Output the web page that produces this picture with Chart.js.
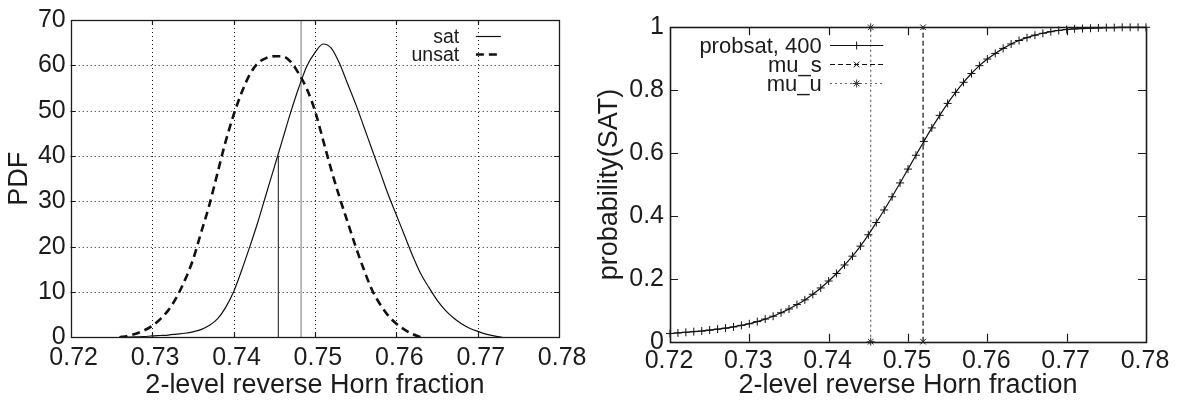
<!DOCTYPE html>
<html><head><meta charset="utf-8">
<script src="https://cdn.jsdelivr.net/npm/chart.js@4.4.1/dist/chart.umd.min.js"></script>
<style>
html,body{margin:0;padding:0;background:#fff;}
#wrap{position:relative;width:1178px;height:403px;overflow:hidden;background:#fff;}
canvas{position:absolute;top:0;}
#c1{left:0;} #c2{left:589px;}
</style></head><body>
<div id="wrap"><canvas id="c1" width="589" height="403"></canvas><canvas id="c2" width="589" height="403"></canvas></div>
<script>
// ---------- data ----------
const xTicks = [0.72, 0.73, 0.74, 0.75, 0.76, 0.77, 0.78];
const xTickLabels = ['0.72', '0.73', '0.74', '0.75', '0.76', '0.77', '0.78'];
const pdfTicks = [0, 10, 20, 30, 40, 50, 60, 70];
const pdfTickLabels = ['0', '10', '20', '30', '40', '50', '60', '70'];
const probTicks = [0, 0.2, 0.4, 0.6, 0.8, 1];
const probTickLabels = ['0', '0.2', '0.4', '0.6', '0.8', '1'];

const pdfX = [0.726, 0.727, 0.728, 0.729, 0.730, 0.731, 0.732, 0.733, 0.734, 0.735,
  0.736, 0.737, 0.738, 0.739, 0.740, 0.741, 0.742, 0.743, 0.744, 0.745,
  0.746, 0.747, 0.748, 0.749, 0.750, 0.751, 0.752, 0.753, 0.754, 0.755,
  0.756, 0.757, 0.758, 0.759, 0.760, 0.761, 0.762, 0.763, 0.764, 0.765,
  0.766, 0.767, 0.768, 0.769, 0.770, 0.771, 0.772, 0.773];
const satPdf = [0, 0.05, 0.1, 0.15, 0.3, 0.4, 0.5, 0.7, 0.9, 1.2,
  1.7, 2.6, 4, 6.5, 10, 14.8, 20, 25.5, 31.5, 37.5,
  43.5, 49.5, 55, 59.8, 62.8, 64.7, 63.8, 60.5, 56, 51.5,
  46.5, 41.5, 36.5, 31.5, 27, 22.5, 18, 14, 11, 8.2,
  6, 4.3, 3, 2, 1.3, 0.7, 0.3, 0];
const unsatPdf = [0, 0.3, 0.8, 1.5, 2.5, 4, 6, 8.8, 12.5, 17,
  23, 29, 36, 43, 49, 54, 58, 60.5, 61.6, 62,
  62, 60.8, 58.2, 54.8, 50, 43.5, 37, 31, 25.5, 20,
  15, 10.5, 7.3, 4.8, 3, 1.7, 0.7, 0, null, null,
  null, null, null, null, null, null, null, null];
const blackLineX = [0.7455, 0.7455];
const blackLineY = [0, 40];
const grayLineX = [0.7483, 0.7483];
const grayLineY = [0, 70];

const probX = [0.720, 0.721, 0.722, 0.723, 0.724, 0.725, 0.726, 0.727, 0.728, 0.729,
  0.730, 0.731, 0.732, 0.733, 0.734, 0.735, 0.736, 0.737, 0.738, 0.739,
  0.740, 0.741, 0.742, 0.743, 0.744, 0.745, 0.746, 0.747, 0.748, 0.749,
  0.750, 0.751, 0.752, 0.753, 0.754, 0.755, 0.756, 0.757, 0.758, 0.759,
  0.760, 0.761, 0.762, 0.763, 0.764, 0.765, 0.766, 0.767, 0.768, 0.769,
  0.770, 0.771, 0.772, 0.773, 0.774, 0.775, 0.776, 0.777, 0.778, 0.779, 0.780];
const probSat = [0.026, 0.028, 0.030, 0.032, 0.034, 0.037, 0.040, 0.043, 0.047, 0.052,
  0.057, 0.064, 0.072, 0.081, 0.092, 0.104, 0.118, 0.133, 0.151, 0.171,
  0.193, 0.217, 0.244, 0.272, 0.304, 0.340, 0.379, 0.419, 0.461, 0.505,
  0.549, 0.593, 0.637, 0.680, 0.720, 0.758, 0.793, 0.825, 0.853, 0.878,
  0.899, 0.917, 0.933, 0.947, 0.958, 0.967, 0.975, 0.981, 0.986, 0.990,
  0.993, 0.995, 0.996, 0.997, 0.998, 0.999, 0.999, 1.0, 1.0, 1.0, 1.0];
const muSX = [0.7519, 0.7519];
const muUX = [0.7453, 0.7453];
const muY = [0, 1];

// ---------- helpers ----------
const FONT = "'Liberation Sans', Arial, Helvetica, sans-serif";
const INK = '#1c1c1c';
Chart.defaults.font.family = FONT;
Chart.defaults.color = INK;
const pts = (xs, ys) => xs.map((x, i) => ({x: x, y: ys[i]}));

const framePlugin = {
  id: 'frame',
  beforeDatasetsDraw(chart, args, o) {
    if (!o.dotted) return;
    const {ctx, chartArea: a, scales: {x, y}} = chart;
    ctx.save();
    ctx.strokeStyle = INK; ctx.lineWidth = 1; ctx.setLineDash([1, 3]);
    ctx.beginPath();
    x.ticks.forEach(t => {
      if (t.value <= x.min || t.value >= x.max) return;
      const px = Math.round(x.getPixelForValue(t.value)) + 0.5;
      ctx.moveTo(px, a.top); ctx.lineTo(px, a.bottom);
    });
    y.ticks.forEach(t => {
      if (t.value <= y.min || t.value >= y.max) return;
      const py = Math.round(y.getPixelForValue(t.value)) + 0.5;
      ctx.moveTo(a.left, py); ctx.lineTo(a.right, py);
    });
    ctx.stroke();
    ctx.restore();
  },
  afterDatasetsDraw(chart, args, o) {
    const {ctx, chartArea: a, scales: {x, y}} = chart;
    const L = o.tickLen;
    ctx.save();
    ctx.strokeStyle = INK; ctx.lineWidth = 1.2; ctx.setLineDash([]);
    ctx.beginPath();
    x.ticks.forEach(t => {
      if (t.value <= x.min || t.value >= x.max) return;
      const px = Math.round(x.getPixelForValue(t.value)) + 0.5;
      ctx.moveTo(px, a.bottom); ctx.lineTo(px, a.bottom - L);
      ctx.moveTo(px, a.top); ctx.lineTo(px, a.top + L);
    });
    y.ticks.forEach(t => {
      if (t.value <= y.min || t.value >= y.max) return;
      const py = Math.round(y.getPixelForValue(t.value)) + 0.5;
      ctx.moveTo(a.left, py); ctx.lineTo(a.left + L, py);
      ctx.moveTo(a.right, py); ctx.lineTo(a.right - L, py);
    });
    ctx.stroke();
    ctx.lineWidth = o.frameWidth;
    ctx.strokeRect(Math.round(a.left) + 0.5, Math.round(a.top) + 0.5,
      Math.round(a.right) - Math.round(a.left), Math.round(a.bottom) - Math.round(a.top));
    ctx.restore();
  }
};

const keyPlugin = {
  id: 'key',
  afterDraw(chart, args, o) {
    const {ctx, chartArea: a} = chart;
    ctx.save();
    ctx.font = o.size + 'px ' + FONT;
    ctx.fillStyle = INK; ctx.textAlign = 'right'; ctx.textBaseline = 'middle';
    o.items.forEach((it, i) => {
      const ds = chart.data.datasets[it.ds];
      const y = Math.round(a.top + o.top + i * o.gap) + 0.5;
      ctx.fillText(it.text, a.right - o.textRight, y + 1);
      const x0 = a.right - o.lineFrom, x1 = a.right - o.lineTo;
      ctx.strokeStyle = ds.borderColor; ctx.lineWidth = ds.borderWidth;
      ctx.setLineDash(ds.borderDash || []);
      ctx.beginPath(); ctx.moveTo(x0, y); ctx.lineTo(x1, y); ctx.stroke();
      ctx.setLineDash([]);
      if (ds.pointStyle && ds.pointRadius > 0) {
        ctx.strokeStyle = ds.pointBorderColor || ds.borderColor;
        ctx.lineWidth = 1;
        Chart.helpers.drawPoint(ctx, {pointStyle: ds.pointStyle, radius: ds.pointRadius, borderWidth: 1, rotation: 0}, (x0 + x1) / 2, y);
      }
    });
    ctx.restore();
  }
};

function xScale(pad, labelOffset, height) {
  return {
    type: 'linear', min: 0.72, max: 0.78,
    afterBuildTicks: s => { s.ticks = xTicks.map(v => ({value: v})); },
    afterFit: s => { s.height = height; },
    grid: {display: false, drawTicks: false},
    border: {display: false},
    ticks: {font: {size: 25}, padding: pad, labelOffset: labelOffset, maxRotation: 0, autoSkip: false,
      callback: (v, i) => xTickLabels[i]},
    title: {display: true, text: '2-level reverse Horn fraction', font: {size: 27, lineHeight: 1.2}, padding: {top: 0, bottom: 1}}
  };
}

// ---------- left chart ----------
new Chart(document.getElementById('c1'), {
  type: 'line',
  data: {datasets: [
    {label: 'sat', data: pts(pdfX, satPdf), borderColor: '#111', borderWidth: 1.2, pointRadius: 0, cubicInterpolationMode: 'monotone', fill: false},
    {label: 'unsat', data: pts(pdfX, unsatPdf), borderColor: '#111', borderWidth: 2.6, borderDash: [8, 5], pointRadius: 0, cubicInterpolationMode: 'monotone', fill: false},
    {label: 'mu line', data: pts(blackLineX, blackLineY), borderColor: '#111', borderWidth: 1, pointRadius: 0, fill: false},
    {label: 'threshold', data: pts(grayLineX, grayLineY), borderColor: '#8c8c8c', borderWidth: 1.2, pointRadius: 0, fill: false}
  ]},
  options: {
    responsive: false, animation: false, events: [],
    layout: {padding: {top: 18.7, right: 28.7, left: 0, bottom: 0}},
    scales: {
      x: xScale(5.5, 3, 65.7),
      y: {
        type: 'linear', min: 0, max: 70,
        afterBuildTicks: s => { s.ticks = pdfTicks.map(v => ({value: v})); },
        afterFit: s => { s.width = 70.7; },
        grid: {display: false, drawTicks: false},
        border: {display: false},
        ticks: {font: {size: 25}, padding: 5, autoSkip: false, callback: (v, i) => pdfTickLabels[i]},
        title: {display: true, text: 'PDF', font: {size: 27, lineHeight: 1.2}, padding: {top: 3, bottom: 0}}
      }
    },
    plugins: {
      legend: {display: false}, tooltip: {enabled: false},
      frame: {dotted: true, tickLen: 5, frameWidth: 1.3},
      key: {size: 19.5, top: 15.8, gap: 18, textRight: 100, lineFrom: 83.3, lineTo: 58.3,
        items: [{ds: 0, text: 'sat'}, {ds: 1, text: 'unsat'}]}
    }
  },
  plugins: [framePlugin, keyPlugin]
});

// ---------- right chart ----------
new Chart(document.getElementById('c2'), {
  type: 'line',
  data: {datasets: [
    {label: 'probsat, 400', data: pts(probX, probSat), borderColor: '#111', borderWidth: 1.2, pointStyle: 'cross', pointRadius: 4, pointBorderWidth: 1, pointBorderColor: '#111', cubicInterpolationMode: 'monotone', fill: false, clip: false},
    {label: 'mu_s', data: pts(muSX, muY), borderColor: '#111', borderWidth: 1.2, borderDash: [5, 3], pointStyle: 'crossRot', pointRadius: 4, pointBorderWidth: 1, pointBorderColor: '#111', fill: false, clip: false},
    {label: 'mu_u', data: pts(muUX, muY), borderColor: '#666', borderWidth: 1.2, borderDash: [2, 3], pointStyle: 'star', pointRadius: 4, pointBorderWidth: 1, pointBorderColor: '#333', fill: false, clip: false}
  ]},
  options: {
    responsive: false, animation: false, events: [],
    layout: {padding: {top: 27.3, right: 32, left: 0, bottom: 0}},
    scales: {
      x: xScale(4.5, -1, 61.3),
      y: {
        type: 'linear', min: 0, max: 1,
        afterBuildTicks: s => { s.ticks = probTicks.map(v => ({value: v})); },
        afterFit: s => { s.width = 81; },
        grid: {display: false, drawTicks: false},
        border: {display: false},
        ticks: {font: {size: 25}, padding: 6, autoSkip: false, callback: (v, i) => probTickLabels[i]},
        title: {display: true, text: 'probability(SAT)', font: {size: 27, lineHeight: 1.2}, padding: {top: 4, bottom: 0}}
      }
    },
    plugins: {
      legend: {display: false}, tooltip: {enabled: false},
      frame: {dotted: false, tickLen: 8, frameWidth: 1.6},
      key: {size: 22, top: 17.7, gap: 19.2, textRight: 324.3, lineFrom: 316, lineTo: 262.7,
        items: [{ds: 0, text: 'probsat, 400'}, {ds: 1, text: 'mu_s'}, {ds: 2, text: 'mu_u'}]}
    }
  },
  plugins: [framePlugin, keyPlugin]
});
</script>
</body></html>
